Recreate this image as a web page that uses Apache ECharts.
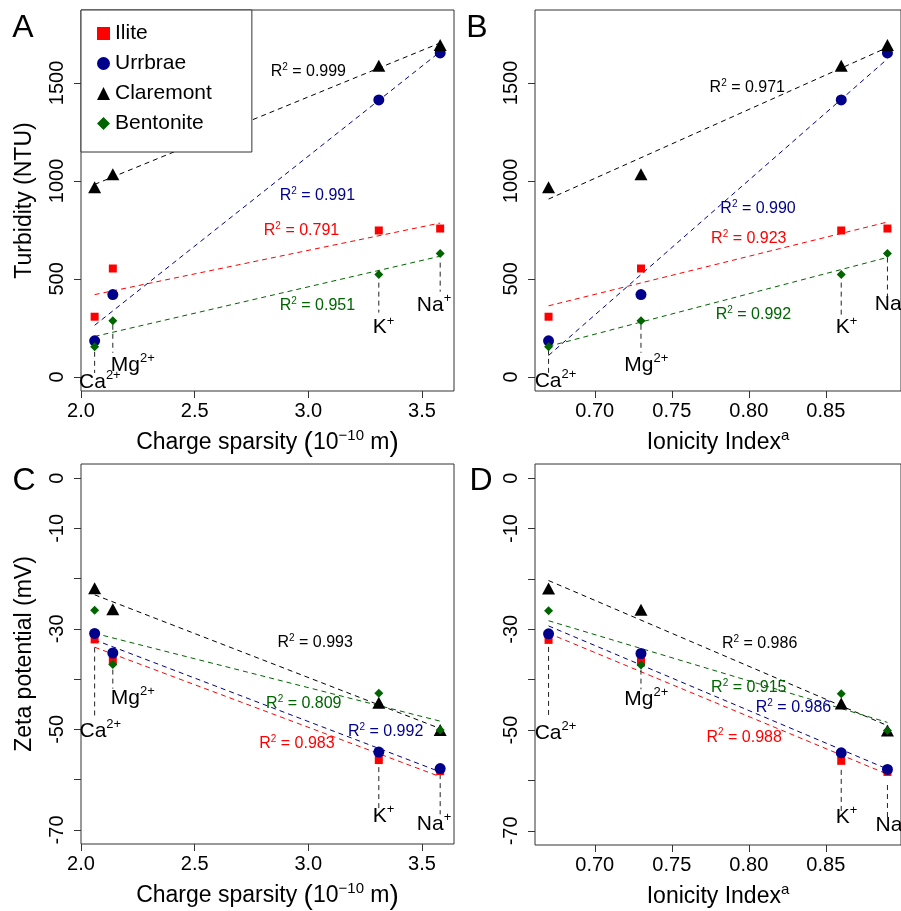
<html><head><meta charset='utf-8'>
<script src='https://cdn.jsdelivr.net/npm/echarts@6/dist/echarts.min.js'></script>
<style>
html,body{margin:0;padding:0;background:#fff;}
#container{width:901px;height:911px;}
</style>
</head><body>
<div id="container"></div>
<script type="text/javascript">
// ions (x positions) and measured values
var ions = ['Ca', 'Mg', 'K', 'Na'];
var ionCharge = ['2+', '2+', '+', '+'];
var chargeSparsity = [2.06, 2.14, 3.31, 3.58];
var ionicityIndex = [0.67, 0.73, 0.86, 0.89];

var minerals = ['Ilite', 'Urrbrae', 'Claremont', 'Bentonite'];

// turbidity (NTU)
var turbIlite = [307, 553, 747, 757];
var turbUrrbrae = [184, 420, 1413, 1653];
var turbClaremont = [967, 1034, 1587, 1694];
var turbBentonite = [154, 287, 522, 630];

// zeta potential (mV)
var zetaIlite = [-32.1, -36.4, -56.1, -58.3];
var zetaUrrbrae = [-30.9, -34.8, -54.5, -57.8];
var zetaClaremont = [-21.9, -26.1, -44.7, -50.1];
var zetaBentonite = [-26.3, -37.1, -42.8, -50.1];

// R2 labels, per panel, in mineral order
var r2A = ['0.791', '0.991', '0.999', '0.951'];
var r2B = ['0.923', '0.990', '0.971', '0.992'];
var r2C = ['0.983', '0.992', '0.993', '0.809'];
var r2D = ['0.988', '0.986', '0.986', '0.915'];

// tick values
var xTicksCS = [2.0, 2.5, 3.0, 3.5];
var xTicksII = [0.70, 0.75, 0.80, 0.85];
var yTicksTurb = [0, 500, 1000, 1500];
var yTicksZeta = [-70, -60, -50, -40, -30, -20, -10, 0];
var yLabelsZeta = [-70, -50, -30, -10, 0];

var colors = ['#ff0000', '#00008b', '#000000', '#006400'];
var symbols = ['rect', 'circle', 'triangle', 'diamond'];
var sizes = [8, 11, [13, 12], [9, 9]];
var font = 'Liberation Sans, Arial, sans-serif';

// annotation placement (data coords): R2 text, ion label, drop line [top,bottom]
var panels = [
  {x: chargeSparsity, y: [turbIlite, turbUrrbrae, turbClaremont, turbBentonite], r2: r2A,
   r2pos: [[2.97, 747], [3.04, 926], [3.0, 1556], [3.04, 363]],
   ionpos: [[2.083, -26], [2.228, 61], [3.331, 251], [3.553, 368]],
   drop: [[128, 20], [266, 123], [481, 328], [583, 435]]},
  {x: ionicityIndex, y: [turbIlite, turbUrrbrae, turbClaremont, turbBentonite], r2: r2B,
   r2pos: [[0.800, 706], [0.806, 860], [0.799, 1474], [0.803, 317]],
   ionpos: [[0.6745, -20], [0.7335, 61], [0.8635, 251], [0.893, 372]],
   drop: [[138, 10], [266, 123], [481, 317], [609, 384]]},
  {x: chargeSparsity, y: [zetaIlite, zetaUrrbrae, zetaClaremont, zetaBentonite], r2: r2C,
   r2pos: [[2.95, -52.8], [3.34, -50.4], [3.03, -32.7], [2.98, -44.8]],
   ionpos: [[2.085, -50.4], [2.228, -43.8], [3.331, -67.3], [3.553, -68.8]],
   drop: [[-33.7, -47.8], [-38.1, -41.9], [-57.5, -66.3], [-58.9, -66.9]]},
  {x: ionicityIndex, y: [zetaIlite, zetaUrrbrae, zetaClaremont, zetaBentonite], r2: r2D,
   r2pos: [[0.797, -51.4], [0.829, -45.6], [0.807, -32.9], [0.800, -41.5]],
   ionpos: [[0.6745, -50.6], [0.7335, -43.8], [0.8635, -67.3], [0.8935, -68.9]],
   drop: [[-33.5, -47.6], [-38.0, -41.9], [-57.9, -66.5], [-60.9, -67.3]]}
];

function fit(xs, ys) {
  var n = xs.length, mx = 0, my = 0, sxx = 0, sxy = 0;
  for (var i = 0; i < n; i++) { mx += xs[i] / n; my += ys[i] / n; }
  for (var i = 0; i < n; i++) { sxx += (xs[i] - mx) * (xs[i] - mx); sxy += (xs[i] - mx) * (ys[i] - my); }
  var b = sxy / sxx, a = my - b * mx;
  var x0 = Math.min.apply(null, xs), x1 = Math.max.apply(null, xs);
  return [[x0, a + b * x0], [x1, a + b * x1]];
}

var gridPos = [
  {left: 81, top: 10, width: 373, height: 381},
  {left: 535, top: 10, width: 373, height: 381},
  {left: 81, top: 464, width: 373, height: 381},
  {left: 535, top: 464, width: 373, height: 381}
];

var grids = gridPos.map(function (g) {
  return {left: g.left, top: g.top, width: g.width, height: g.height, show: true,
    borderColor: '#333', borderWidth: 1, backgroundColor: 'transparent'};
});

var supRich = {
  t: {fontSize: 23, lineHeight: 30, fontFamily: font, color: '#000'},
  p: {fontSize: 28, lineHeight: 30, fontFamily: font, color: '#000'},
  s: {fontSize: 15, lineHeight: 15, fontFamily: font, color: '#000', verticalAlign: 'top'}
};

var xNames = [
  '{t|Charge sparsity }{p|(}{t|10}{s|\u221210}{t| m}{p|)}',
  '{t|Ionicity Index}{s|a}'
];

var xAxes = [], yAxes = [];
for (var k = 0; k < 4; k++) {
  var cs = (k % 2 === 0);
  var turb = (k < 2);
  xAxes.push({
    type: 'value', gridIndex: k, position: 'bottom',
    min: cs ? 2.0 : 0.6612, max: cs ? 3.6408 : 0.8988,
    name: cs ? xNames[0] : xNames[1], nameLocation: 'middle', nameGap: 37,
    nameTextStyle: {fontSize: 23, fontFamily: font, color: '#000', rich: supRich},
    splitLine: {show: false}, axisLine: {show: false, onZero: false},
    axisTick: {show: true, length: 7, lineStyle: {color: '#333'}, customValues: cs ? xTicksCS : xTicksII},
    axisLabel: {fontSize: 20, fontFamily: font, color: '#000', margin: 10,
      customValues: cs ? xTicksCS : xTicksII,
      formatter: (function (c) { return function (v) { return c ? v.toFixed(1) : v.toFixed(2); }; })(cs)}
  });
  yAxes.push({
    type: 'value', gridIndex: k, position: 'left',
    min: turb ? -72 : -72.8, max: turb ? 1872 : 2.8,
    name: k === 0 ? 'Turbidity (NTU)' : (k === 2 ? 'Zeta potential (mV)' : ''),
    nameLocation: 'middle', nameGap: 45, nameRotate: 90,
    nameTextStyle: {fontSize: 23, fontFamily: font, color: '#000'},
    splitLine: {show: false}, axisLine: {show: false, onZero: false},
    axisTick: {show: true, length: 7, lineStyle: {color: '#333'}, customValues: turb ? yTicksTurb : yTicksZeta},
    axisLabel: {fontSize: 20, fontFamily: font, color: '#000', margin: 14, rotate: 90,
      customValues: turb ? yTicksTurb : yLabelsZeta,
      formatter: function (v) { return String(v); }}
  });
}

var series = [];
panels.forEach(function (p, k) {
  // regression lines
  for (var m = 0; m < 4; m++) {
    series.push({
      type: 'line', name: 'fit ' + minerals[m], xAxisIndex: k, yAxisIndex: k,
      data: fit(p.x, p.y[m]), showSymbol: false, silent: true, z: 2,
      lineStyle: {color: colors[m], width: 1, type: [5, 4]}
    });
  }
  // drop lines to ion labels
  for (var i = 0; i < 4; i++) {
    series.push({
      type: 'line', name: 'drop', xAxisIndex: k, yAxisIndex: k,
      data: [[p.x[i], p.drop[i][0]], [p.x[i], p.drop[i][1]]],
      showSymbol: false, silent: true, z: 2,
      lineStyle: {color: '#222', width: 1, type: [5, 4]}
    });
  }
  // points
  for (var m = 0; m < 4; m++) {
    series.push({
      type: 'scatter', name: minerals[m], xAxisIndex: k, yAxisIndex: k,
      data: p.x.map(function (xv, i) { return [xv, p.y[m][i]]; }),
      symbol: symbols[m], symbolSize: sizes[m], clip: false, z: 3,
      itemStyle: {color: colors[m], opacity: 1}
    });
  }
  // text annotations
  var txt = [];
  for (var m = 0; m < 4; m++) {
    txt.push({value: p.r2pos[m], label: {
      formatter: '{a|R}{s|2}{a| = ' + p.r2[m] + '}',
      rich: {a: {fontSize: 16, lineHeight: 19, fontFamily: font, color: colors[m], textBorderWidth: 0},
             s: {fontSize: 10, lineHeight: 10, fontFamily: font, color: colors[m], verticalAlign: 'top', textBorderWidth: 0}}}});
  }
  for (var i = 0; i < 4; i++) {
    txt.push({value: p.ionpos[i], label: {
      formatter: '{a|' + ions[i] + '}{s|' + ionCharge[i] + '}',
      rich: {a: {fontSize: 21, lineHeight: 26, fontFamily: font, color: '#000', textBorderWidth: 0},
             s: {fontSize: 13, lineHeight: 13, fontFamily: font, color: '#000', verticalAlign: 'top', textBorderWidth: 0}}}});
  }
  series.push({
    type: 'scatter', name: 'text', xAxisIndex: k, yAxisIndex: k, data: txt,
    symbolSize: 1, silent: true, clip: false, z: 4,
    itemStyle: {color: 'rgba(0,0,0,0)'},
    label: {show: true, position: 'inside', color: '#000', textBorderWidth: 0, opacity: 1}
  });
});

var letters = [['A', 23, 28], ['B', 477, 28], ['C', 24, 481], ['D', 481, 481]];

var container = document.getElementById('container');
var myChart = echarts.init(container);
myChart.setOption({
  animation: false,
  backgroundColor: '#fff',
  textStyle: {fontFamily: font},
  grid: grids,
  xAxis: xAxes,
  yAxis: yAxes,
  legend: {
    orient: 'vertical', left: 81, top: 10, padding: [13, 40, 18, 16],
    itemGap: 9, itemWidth: 13, itemHeight: 13, selectedMode: false, z: 10,
    backgroundColor: '#fff', borderColor: '#333', borderWidth: 1, borderRadius: 0,
    textStyle: {fontSize: 21, fontFamily: font, color: '#000'},
    data: minerals.map(function (n, m) { return {name: n, icon: symbols[m], itemStyle: {color: colors[m]}}; })
  },
  graphic: letters.map(function (l) {
    return {type: 'text', x: l[1], y: l[2], z: 20,
      style: {text: l[0], fontSize: 32, fontFamily: font, fill: '#000',
        align: 'center', verticalAlign: 'middle', textAlign: 'center', textVerticalAlign: 'middle'}};
  }),
  series: series
});
</script>
</body></html>
